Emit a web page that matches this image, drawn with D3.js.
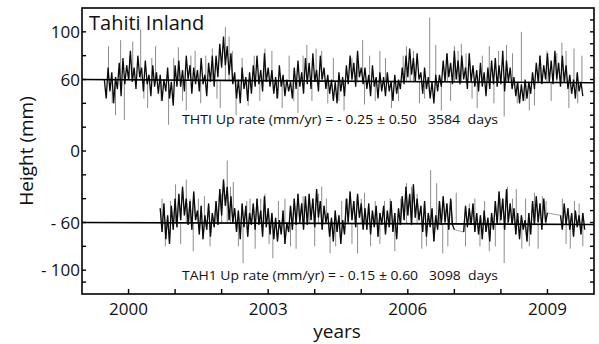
<!DOCTYPE html>
<html><head><meta charset="utf-8">
<script src="https://cdn.jsdelivr.net/npm/d3@7"></script>
<style>body{margin:0;background:#fff}svg{display:block}</style>
</head><body>
<svg id="chart" width="599" height="344"></svg>
<script>
// ---------------- data ----------------
const yearDomain = [1999.0, 2010.0];
const heightDomain = [-120, 120];
const xTickYears = [2000, 2001, 2002, 2003, 2004, 2005, 2006, 2007, 2008, 2009];
const xLabelYears = [2000, 2003, 2006, 2009];
const yLabelValues = [100, 60, 0, -60, -100];
const yLabelTexts = ["100", "60", "0", "- 60", "- 100"];
const leftTickValues = [100, 80, 60, 40, 20, 0, -20, -40, -60, -80, -100, -110];
const rightTickValues = [110, 100, 90, 80, 70, 60, 50, 40, 30, 20, 10, 0, -10, -20, -30, -40, -50, -60, -70, -80, -90, -100, -110];

const sampleStep = 0.04;           // years between samples
const thtiStart = 1999.48;
const tah1Start = 2000.68;
const trendStartYear = 1999.0;
const thtiBase = 60, thtiRate = -0.25;
const tah1Base = -60, tah1Rate = -0.15;

const thtiValues = [
 60,44,70,50,66,40,62,52,74,46,
 78,56,72,60,84,58,70,52,80,62,
 70,50,76,56,64,46,72,54,66,48,
 64,42,60,50,70,44,58,38,72,54,
 76,54,68,50,80,60,72,48,70,56,
 68,50,78,56,64,46,74,58,80,54,
 80,62,90,70,96,72,88,64,82,56,
 66,44,60,40,70,52,62,42,66,48,
 72,54,80,56,68,50,82,58,70,54,
 68,48,62,44,72,54,64,46,60,50,
 58,44,70,52,76,54,66,48,78,56,
 74,52,82,58,68,50,80,60,70,52,
 64,48,60,42,58,40,66,50,62,46,
 72,56,80,60,74,54,84,62,70,56,
 70,52,64,46,72,54,62,44,66,50,
 62,46,66,50,58,42,64,48,60,52,
 70,56,80,62,86,64,78,58,82,60,
 66,48,70,52,62,44,58,40,64,50,
 64,54,76,58,82,62,74,56,84,60,
 76,56,80,60,70,52,82,58,72,54,
 68,50,74,54,66,46,70,52,76,56,
 78,54,72,56,84,50,76,58,70,52,
 62,46,58,40,56,42,60,44,58,48,
 66,52,74,58,80,56,72,60,82,58,
 76,56,84,60,74,54,80,58,72,52,
 64,48,60,44,66,50,58,46
];

const tah1Values = [
 -48,-68,-44,-74,-54,-78,-46,-66,-40,-64,
 -36,-58,-30,-54,-40,-62,-42,-66,-34,-58,
 -50,-70,-46,-74,-54,-66,-44,-72,-52,-64,
 -42,-62,-32,-54,-24,-46,-30,-58,-38,-60,
 -48,-68,-50,-74,-44,-64,-46,-72,-52,-62,
 -44,-66,-40,-62,-50,-72,-38,-64,-48,-70,
 -52,-74,-56,-76,-58,-70,-50,-78,-60,-68,
 -46,-66,-40,-62,-36,-60,-44,-66,-38,-62,
 -36,-58,-40,-64,-32,-56,-42,-66,-46,-60,
 -52,-72,-56,-76,-50,-68,-54,-78,-58,-70,
 -40,-60,-34,-58,-42,-64,-36,-56,-44,-66,
 -48,-66,-44,-70,-50,-64,-46,-72,-52,-62,
 -46,-70,-50,-64,-42,-68,-52,-74,-48,-62,
 -38,-58,-30,-54,-36,-62,-28,-56,-40,-58,
 -46,-68,-42,-72,-52,-64,-48,-76,-54,-66,
 -42,-62,-38,-60,-44,-66,-40,-62,-66,null,
 null,null,null,-68,-46,-64,-48,-62,-44,-68,
 -52,-70,-54,-74,-50,-68,-56,-76,-52,-66,
 -42,-62,-34,-58,-40,-66,-32,-60,-44,-62,
 -48,-70,-52,-74,-54,-66,-58,-76,-52,-70,
 -42,-62,-38,-60,-44,-66,-40,-60,-52,null,
 null,null,null,null,null,-54,-66,-44,-62,-48,
 -66,-52,-72,-50,-64,-54,-70,-52,-66
];

const thtiSpikes = [
 [1999.57,88],[1999.65,40],[1999.72,30],[1999.83,93],[1999.91,26],[2000.02,80],[2000.09,92],[2000.26,102],
 [2000.33,44],[2000.41,36],[2000.50,78],[2000.58,88],[2000.70,42],[2000.86,22],[2000.97,78],[2001.07,87],
 [2001.16,42],[2001.24,34],[2001.34,80],[2001.43,84],[2001.55,40],[2001.66,80],[2001.80,86],[2001.90,44],
 [2001.97,36],[2002.08,104],[2002.16,96],[2002.23,84],[2002.31,30],[2002.44,78],[2002.57,38],[2002.70,80],
 [2002.82,42],[2002.93,86],[2003.08,84],[2003.18,44],[2003.30,36],[2003.45,80],[2003.55,42],[2003.64,32],
 [2003.75,80],[2003.83,89],[2003.94,42],[2004.03,86],[2004.15,84],[2004.28,40],[2004.40,78],[2004.52,42],
 [2004.63,34],[2004.80,78],[2004.92,82],[2005.03,93],[2005.07,39],[2005.18,80],[2005.30,42],[2005.40,84],
 [2005.52,78],[2005.65,36],[2005.80,42],[2005.90,80],[2005.97,88],[2006.05,82],[2006.12,84],[2006.25,40],
 [2006.36,44],[2006.47,112],[2006.60,89],[2006.72,34],[2006.85,82],[2006.92,42],[2007.00,88],[2007.08,84],
 [2007.15,90],[2007.25,82],[2007.38,44],[2007.49,36],[2007.60,80],[2007.75,88],[2007.85,40],[2007.95,84],
 [2008.07,29],[2008.12,89],[2008.25,82],[2008.35,40],[2008.44,100],[2008.52,42],[2008.61,34],[2008.72,38],
 [2008.84,80],[2008.99,84],[2009.08,42],[2009.20,82],[2009.31,91],[2009.40,84],[2009.46,36],[2009.57,86],
 [2009.65,40],[2009.74,80]
];

const tah1Spikes = [
 [2000.72,-40],[2000.79,-80],[2000.90,-42],[2001.01,-28],[2001.12,-78],[2001.24,-24],[2001.32,-40],[2001.39,-84],
 [2001.50,-40],[2001.63,-38],[2001.75,-80],[2001.88,-42],[2002.00,-36],[2002.12,-8],[2002.19,-30],[2002.25,-26],
 [2002.36,-80],[2002.46,-94],[2002.54,-42],[2002.61,-40],[2002.72,-82],[2002.84,-40],[2002.93,-36],[2003.02,-78],
 [2003.10,-90],[2003.22,-42],[2003.36,-40],[2003.48,-80],[2003.60,-82],[2003.75,-38],[2003.88,-42],[2004.00,-80],
 [2004.08,-36],[2004.15,-30],[2004.25,-40],[2004.33,-86],[2004.45,-80],[2004.58,-42],[2004.70,-40],[2004.80,-78],
 [2004.92,-86],[2005.00,-40],[2005.07,-35],[2005.20,-80],[2005.30,-42],[2005.40,-78],[2005.50,-42],[2005.62,-40],
 [2005.72,-84],[2005.85,-40],[2005.97,-27],[2006.08,-30],[2006.20,-36],[2006.30,-82],[2006.40,-80],[2006.49,-16],
 [2006.62,-27],[2006.68,-44],[2006.75,-86],[2006.86,-80],[2006.94,-42],[2007.04,-35],[2007.24,-80],[2007.32,-44],
 [2007.44,-40],[2007.55,-80],[2007.65,-42],[2007.75,-84],[2007.88,-80],[2007.98,-40],[2008.07,-94],[2008.14,-30],
 [2008.25,-40],[2008.33,-32],[2008.45,-82],[2008.53,-40],[2008.61,-80],[2008.72,-35],[2008.80,-82],[2008.89,-38],
 [2008.97,-42],[2009.32,-40],[2009.40,-78],[2009.49,-82],[2009.58,-42],[2009.68,-44],[2009.76,-80]
];

const titleText = "Tahiti Inland";
const thtiNote = "THTI Up rate (mm/yr) = - 0.25 \u00B1 0.50   3584  days";
const tah1Note = "TAH1 Up rate (mm/yr) = - 0.15 \u00B1 0.60   3098  days";
const xAxisTitle = "years";
const yAxisTitle = "Height (mm)";

// ---------------- drawing ----------------
(function () {
const svg = d3.select("#chart");
const mLeft = 82, mRight = 594, mTop = 8, mBottom = 294;
const x = d3.scaleLinear().domain(yearDomain).range([mLeft, mRight]);
const y = d3.scaleLinear().domain(heightDomain).range([mBottom, mTop]);
const font = "'Open Sans', 'DejaVu Sans', sans-serif";

function toPoints(start, vals) {
  return vals.map((v, i) => ({t: start + i * sampleStep, v}));
}
const thtiPts = toPoints(thtiStart, thtiValues);
const tah1Pts = toPoints(tah1Start, tah1Values);

const trend = (base, rate) => t => base + rate * (t - trendStartYear);
const thtiTrend = trend(thtiBase, thtiRate);
const tah1Trend = trend(tah1Base, tah1Rate);

const plot = svg.append("g");

function drawSpikes(spikes, tr) {
  plot.append("g").selectAll("line").data(spikes).join("line")
    .attr("x1", d => x(d[0])).attr("x2", d => x(d[0]))
    .attr("y1", d => y(tr(d[0]))).attr("y2", d => y(d[1]))
    .attr("stroke", "#8c8c8c").attr("stroke-width", 1);
}
drawSpikes(thtiSpikes, thtiTrend);
drawSpikes(tah1Spikes, tah1Trend);

const line = d3.line().defined(d => d.v != null).x(d => x(d.t)).y(d => y(d.v));
plot.append("path").datum(tah1Pts.filter(d => d.v != null))
  .attr("d", line).attr("fill", "none").attr("stroke", "#8c8c8c").attr("stroke-width", 0.8);
[thtiPts, tah1Pts].forEach(pts => {
  plot.append("path").datum(pts).attr("d", line)
    .attr("fill", "none").attr("stroke", "#0a0a0a").attr("stroke-width", 1.3)
    .attr("stroke-linejoin", "bevel");
});

[thtiTrend, tah1Trend].forEach(tr => {
  plot.append("line")
    .attr("x1", x(yearDomain[0])).attr("x2", x(yearDomain[1]))
    .attr("y1", y(tr(yearDomain[0]))).attr("y2", y(tr(yearDomain[1])))
    .attr("stroke", "#000").attr("stroke-width", 1.6);
});

svg.append("rect").attr("x", mLeft).attr("y", mTop)
  .attr("width", mRight - mLeft).attr("height", mBottom - mTop)
  .attr("fill", "none").attr("stroke", "#000").attr("stroke-width", 1.6);

svg.append("g").selectAll("line").data(leftTickValues).join("line")
  .attr("x1", mLeft).attr("x2", mLeft + 4).attr("y1", d => y(d)).attr("y2", d => y(d))
  .attr("stroke", "#000").attr("stroke-width", 1.4);
svg.append("g").selectAll("line").data(rightTickValues).join("line")
  .attr("x1", mRight).attr("x2", mRight - 4).attr("y1", d => y(d)).attr("y2", d => y(d))
  .attr("stroke", "#000").attr("stroke-width", 1.4);
svg.append("g").selectAll("line").data(xTickYears).join("line")
  .attr("x1", d => x(d)).attr("x2", d => x(d)).attr("y1", mBottom).attr("y2", mBottom - 5)
  .attr("stroke", "#000").attr("stroke-width", 1.4);

svg.append("g").selectAll("text").data(yLabelValues).join("text")
  .attr("x", mLeft - 2).attr("y", d => y(d)).attr("dy", "0.36em")
  .attr("text-anchor", "end").attr("font-family", font).attr("font-size", 17)
  .attr("fill", "#111").attr("xml:space", "preserve")
  .text((d, i) => yLabelTexts[i]);
svg.append("g").selectAll("text").data(xLabelYears).join("text")
  .attr("x", d => x(d)).attr("y", 315)
  .attr("text-anchor", "middle").attr("font-family", font).attr("font-size", 17)
  .attr("fill", "#111").text(d => d);

svg.append("text").attr("x", 337).attr("y", 338).attr("text-anchor", "middle")
  .attr("font-family", font).attr("font-size", 19).attr("fill", "#111").text(xAxisTitle);
svg.append("text").attr("transform", "translate(33,151) rotate(-90)")
  .attr("text-anchor", "middle").attr("font-family", font).attr("font-size", 19)
  .attr("fill", "#111").text(yAxisTitle);
svg.append("text").attr("x", 89).attr("y", 30)
  .attr("font-family", font).attr("font-size", 20).attr("fill", "#111").text(titleText);

[[thtiNote, 124], [tah1Note, 280]].forEach(([txt, by]) => {
  svg.append("text").attr("x", 182).attr("y", by)
    .attr("font-family", font).attr("font-size", 13).attr("fill", "#111")
    .attr("xml:space", "preserve")
    .attr("textLength", 316).attr("lengthAdjust", "spacingAndGlyphs")
    .text(txt);
});
})();
</script>
</body></html>
